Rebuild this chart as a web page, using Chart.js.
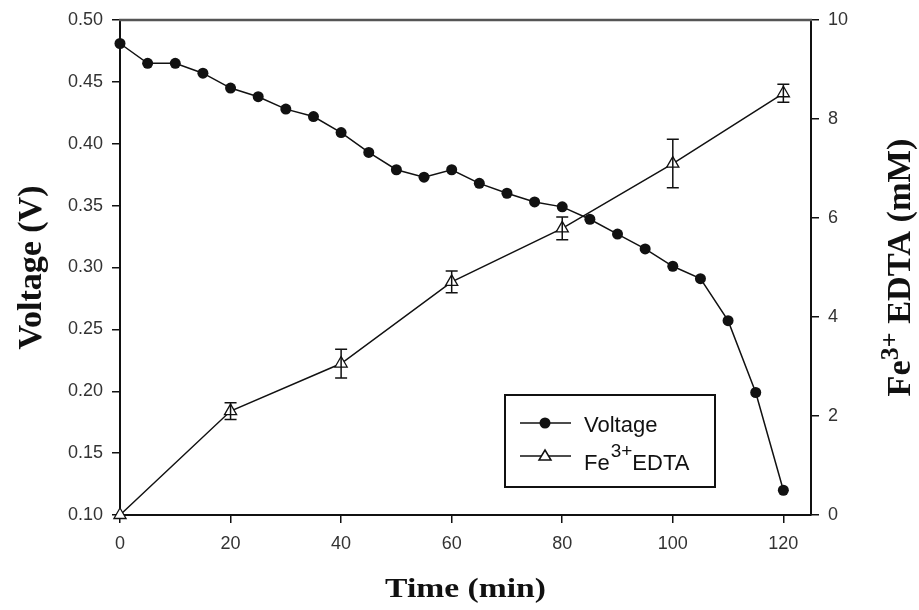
<!DOCTYPE html>
<html>
<head>
<meta charset="utf-8">
<title>Voltage and Fe3+EDTA vs time</title>
<script src="https://cdn.jsdelivr.net/npm/chart.js@4.4.0/dist/chart.umd.min.js"></script>
<style>
  html, body { margin: 0; padding: 0; background: #fff; }
  canvas { display: block; }
</style>
</head>
<body>
<canvas id="voltChart" width="919" height="610"></canvas>
<script>
// values
const voltageTime = [0, 5, 10, 15, 20, 25, 30, 35, 40, 45, 50, 55, 60, 65, 70, 75, 80, 85, 90, 95, 100, 105, 110, 115, 120];
const voltage = [0.481, 0.465, 0.465, 0.457, 0.445, 0.438, 0.428, 0.422, 0.409, 0.393, 0.379, 0.373, 0.379,
                 0.368, 0.360, 0.353, 0.349, 0.339, 0.327, 0.315, 0.301, 0.291, 0.257, 0.199, 0.120];
const feTime = [0, 20, 40, 60, 80, 100, 120];
const fe = [0, 2.10, 3.06, 4.71, 5.79, 7.10, 8.52];
const feErr = [0, 0.17, 0.29, 0.22, 0.23, 0.49, 0.18];

const timeTicks = [0, 20, 40, 60, 80, 100, 120];
const voltTicks = [0.10, 0.15, 0.20, 0.25, 0.30, 0.35, 0.40, 0.45, 0.50];
const feTicks = [0, 2, 4, 6, 8, 10];

const tickFont = { family: '"Liberation Sans", Arial, sans-serif', size: 18 };
const titleFamily = '"Liberation Serif", "Times New Roman", serif';
const sansFamily = '"Liberation Sans", Arial, sans-serif';
const ink = '#111';

function setTicks(list) {
  return scale => { scale.ticks = list.map(v => ({ value: v })); };
}

// draws runs of [text, font, raise] centred on (x, y) baseline, optionally rotated / stretched
function drawRuns(ctx, runs, x, y, rotation, stretch) {
  ctx.save();
  ctx.translate(x, y);
  ctx.rotate(rotation);
  ctx.scale(stretch, 1);
  ctx.textBaseline = 'alphabetic';
  let total = 0;
  runs.forEach(r => { ctx.font = r[1]; total += ctx.measureText(r[0]).width; });
  let cx = -total / 2;
  runs.forEach(r => {
    ctx.font = r[1];
    ctx.fillText(r[0], cx, -r[2]);
    cx += ctx.measureText(r[0]).width;
  });
  ctx.restore();
}

// error bars on the Fe3+ series, placed through the y1 scale
const errorBars = {
  id: 'errorBars',
  afterDatasetsDraw(chart) {
    const { ctx, scales } = chart;
    ctx.save();
    ctx.strokeStyle = ink;
    ctx.lineWidth = 1.5;
    feTime.forEach((t, i) => {
      if (!feErr[i]) return;
      const x = scales.x.getPixelForValue(t);
      const yTop = scales.y1.getPixelForValue(fe[i] + feErr[i]);
      const yBot = scales.y1.getPixelForValue(fe[i] - feErr[i]);
      ctx.beginPath();
      ctx.moveTo(x, yTop); ctx.lineTo(x, yBot);
      ctx.moveTo(x - 6, yTop); ctx.lineTo(x + 6, yTop);
      ctx.moveTo(x - 6, yBot); ctx.lineTo(x + 6, yBot);
      ctx.stroke();
    });
    ctx.restore();
  }
};

// top frame line, axis titles, boxed legend
const decorations = {
  id: 'decorations',
  afterDraw(chart) {
    const { ctx, chartArea } = chart;
    ctx.save();

    ctx.strokeStyle = '#555';
    ctx.lineWidth = 2.5;
    ctx.beginPath();
    ctx.moveTo(chartArea.left - 1, chartArea.top);
    ctx.lineTo(chartArea.right + 1, chartArea.top);
    ctx.stroke();

    const midY = (chartArea.top + chartArea.bottom) / 2;
    const midX = (chartArea.left + chartArea.right) / 2;
    ctx.fillStyle = ink;
    drawRuns(ctx, [['Voltage (V)', 'bold 34px ' + titleFamily, 0]], 41, midY, -Math.PI / 2, 1);
    drawRuns(ctx, [['Time (min)', 'bold 28px ' + titleFamily, 0]], midX, 597, 0, 1.2);
    drawRuns(ctx, [
      ['Fe', 'bold 33px ' + titleFamily, 0],
      ['3+', 'bold 25px ' + titleFamily, 12],
      [' EDTA (mM)', 'bold 33px ' + titleFamily, 0]
    ], 910, midY, -Math.PI / 2, 1.04);

    // legend
    const bx = 505, by = 395, bw = 210, bh = 92;
    ctx.strokeStyle = ink;
    ctx.lineWidth = 2;
    ctx.strokeRect(bx, by, bw, bh);
    const rows = [by + 28, by + 61];
    ctx.lineWidth = 1.5;
    rows.forEach(y => {
      ctx.beginPath();
      ctx.moveTo(bx + 15, y); ctx.lineTo(bx + 66, y);
      ctx.stroke();
    });
    const mx = bx + 40;
    ctx.fillStyle = ink;
    ctx.beginPath();
    ctx.arc(mx, rows[0], 5.5, 0, Math.PI * 2);
    ctx.fill();
    ctx.fillStyle = '#fff';
    ctx.beginPath();
    ctx.moveTo(mx, rows[1] - 6);
    ctx.lineTo(mx + 6, rows[1] + 4);
    ctx.lineTo(mx - 6, rows[1] + 4);
    ctx.closePath();
    ctx.fill();
    ctx.stroke();

    ctx.fillStyle = ink;
    ctx.textBaseline = 'alphabetic';
    const lf = '22px ' + sansFamily;
    const ls = '19px ' + sansFamily;
    ctx.font = lf;
    ctx.fillText('Voltage', bx + 79, rows[0] + 9);
    let lx = bx + 79;
    ctx.fillText('Fe', lx, rows[1] + 14);
    lx += ctx.measureText('Fe').width + 1;
    ctx.font = ls;
    ctx.fillText('3+', lx, rows[1] + 1);
    lx += ctx.measureText('3+').width;
    ctx.font = lf;
    ctx.fillText('EDTA', lx, rows[1] + 14);

    ctx.restore();
  }
};

const ctx = document.getElementById('voltChart').getContext('2d');
const voltChart = new Chart(ctx, {
  type: 'scatter',
  data: {
    datasets: [{
      label: 'Voltage',
      data: voltageTime.map((t, i) => ({ x: t, y: voltage[i] })),
      yAxisID: 'y',
      showLine: true,
      borderColor: ink,
      borderWidth: 1.5,
      backgroundColor: ink,
      pointRadius: 5.5,
      pointBorderWidth: 0,
      clip: false
    }, {
      label: 'Fe3+EDTA',
      data: feTime.map((t, i) => ({ x: t, y: fe[i] })),
      yAxisID: 'y1',
      showLine: true,
      borderColor: ink,
      borderWidth: 1.5,
      backgroundColor: '#fff',
      pointStyle: 'triangle',
      pointRadius: 7,
      pointBorderWidth: 1.3,
      pointBorderColor: ink,
      clip: false
    }]
  },
  options: {
    responsive: false,
    animation: false,
    devicePixelRatio: 1,
    layout: { padding: { top: 20, left: 0, right: 0, bottom: 0 } },
    plugins: { legend: { display: false }, tooltip: { enabled: false } },
    scales: {
      x: {
        type: 'linear',
        min: 0,
        max: 125,
        afterBuildTicks: setTicks(timeTicks),
        afterFit: s => { s.height = 95; },
        grid: { drawOnChartArea: false, tickLength: 8, color: ink, lineWidth: 1.5 },
        border: { color: ink, width: 2 },
        ticks: { font: tickFont, color: '#333', padding: 10 }
      },
      y: {
        position: 'left',
        min: 0.10,
        max: 0.50,
        afterBuildTicks: setTicks(voltTicks),
        afterFit: s => { s.width = 120; },
        grid: { drawOnChartArea: false, tickLength: 8, color: ink, lineWidth: 1.5 },
        border: { color: ink, width: 2 },
        ticks: { font: tickFont, color: '#333', padding: 9, callback: v => v.toFixed(2) }
      },
      y1: {
        position: 'right',
        min: 0,
        max: 10,
        afterBuildTicks: setTicks(feTicks),
        afterFit: s => { s.width = 108; },
        grid: { drawOnChartArea: false, tickLength: 8, color: ink, lineWidth: 1.5 },
        border: { color: ink, width: 2 },
        ticks: { font: tickFont, color: '#333', padding: 9 }
      }
    }
  },
  plugins: [errorBars, decorations]
});
</script>
</body>
</html>
